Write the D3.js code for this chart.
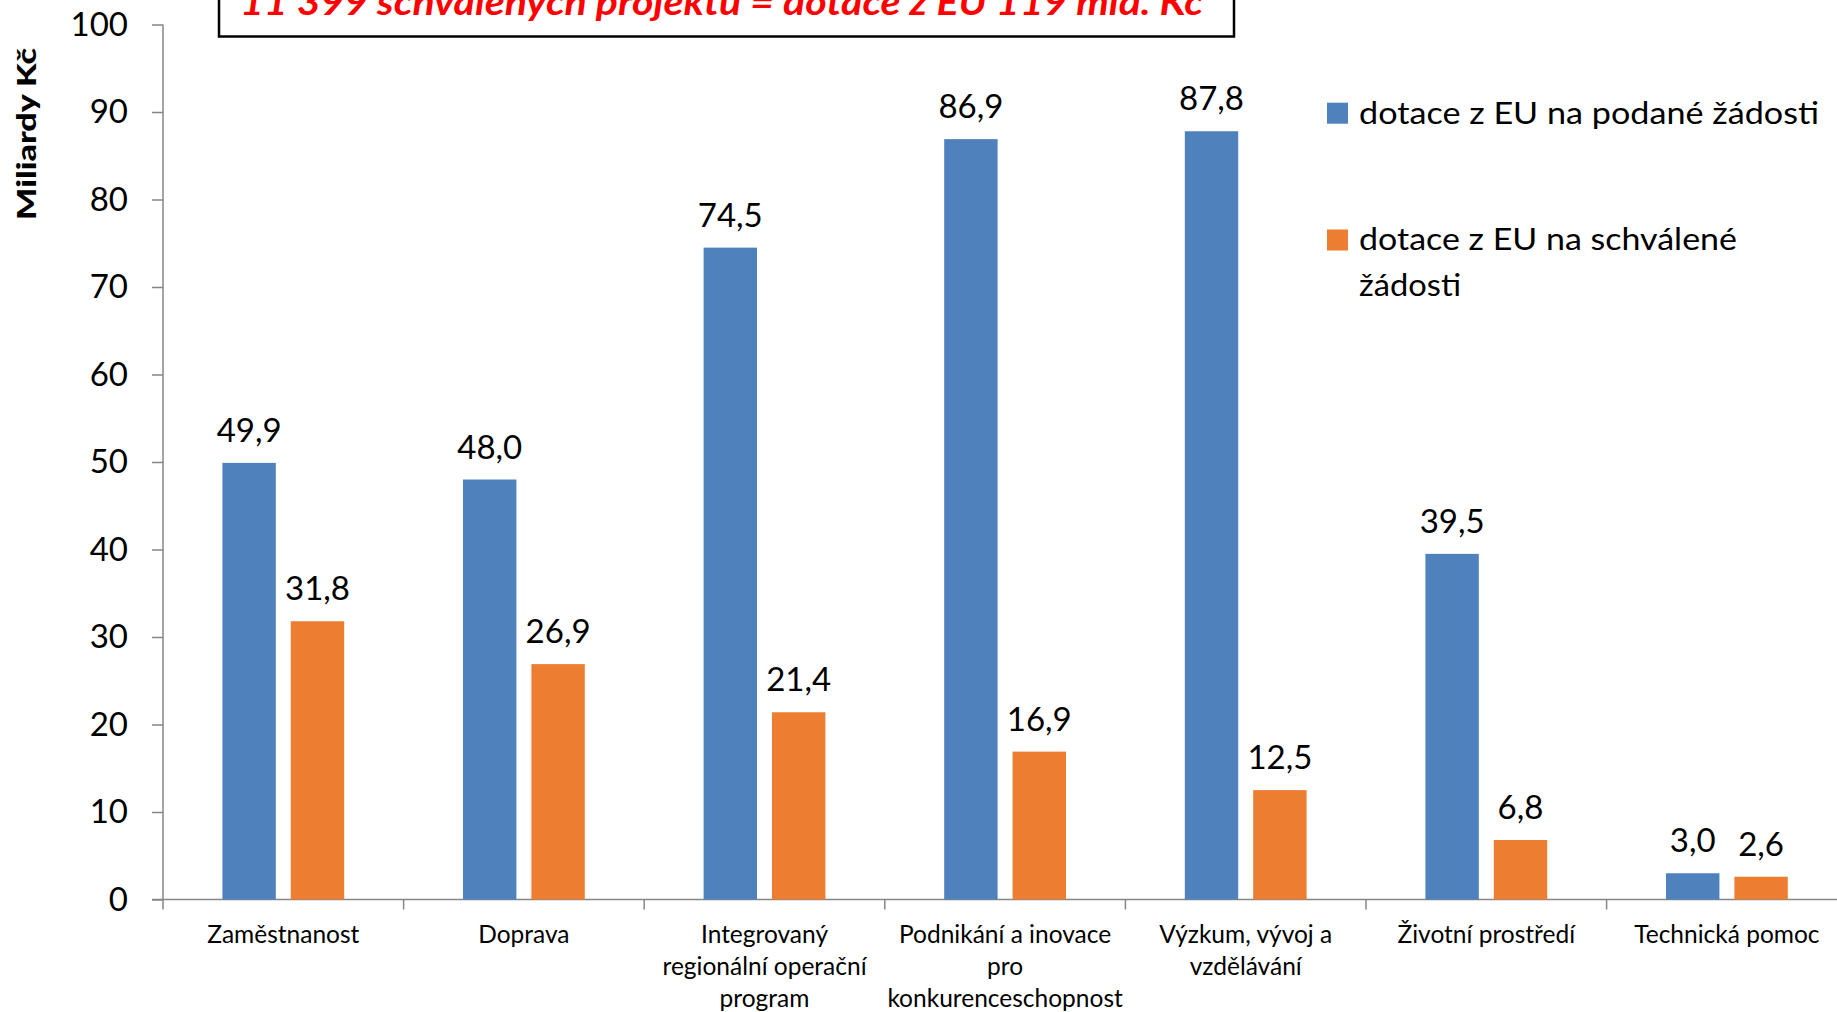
<!DOCTYPE html>
<html><head><meta charset="utf-8">
<script src="https://cdn.jsdelivr.net/npm/d3@7"></script>
<style>html,body{margin:0;padding:0;background:#fff;overflow:hidden}</style>
</head><body>
<svg id="chart" width="1837" height="1012"></svg>
<script>
const categories = [
  ["Zaměstnanost"],
  ["Doprava"],
  ["Integrovaný", "regionální operační", "program"],
  ["Podnikání a inovace", "pro", "konkurenceschopnost"],
  ["Výzkum, vývoj a", "vzdělávání"],
  ["Životní prostředí"],
  ["Technická pomoc"]
];
const seriesNames = ["dotace z EU na podané žádosti", "dotace z EU na schválené žádosti"];
const submitted = [49.9, 48.0, 74.5, 86.9, 87.8, 39.5, 3.0];
const approved  = [31.8, 26.9, 21.4, 16.9, 12.5, 6.8, 2.6];
const yTicks = [0, 10, 20, 30, 40, 50, 60, 70, 80, 90, 100];
const titleText = "11 399 schválených projektů  = dotace z EU 119 mld. Kč";
const yAxisTitle = "Miliardy Kč";
const colors = ["#4F81BD", "#ED7D31"];

const FONT = "Lato, 'Open Sans', sans-serif";
const svg = d3.select("#chart");
const catIdx = categories.map((d, i) => i);

const y = d3.scaleLinear().domain([0, 100]).range([899.5, 24.5]);
const x = d3.scaleBand().domain(catIdx).range([163, 163 + 7 * 240.6]).paddingInner(0).paddingOuter(0);
const xs = d3.scaleBand().domain([0, 1]).range([0, x.bandwidth()]).paddingInner(0.219).paddingOuter(0.869);
const fmt = d3.formatLocale({decimal: ",", thousands: " ", grouping: [3], currency: ["", ""]}).format(".1f");

// Y axis
const yAxis = svg.append("g").attr("transform", "translate(163,0)")
  .call(d3.axisLeft(y).tickValues(yTicks).tickSize(11).tickPadding(24).tickFormat(d3.format("d")));
yAxis.select(".domain").attr("stroke", "#868686").attr("stroke-width", 1.5).attr("d", "M0,24.5V899.5");
yAxis.selectAll(".tick line").attr("stroke", "#868686").attr("stroke-width", 1.5);
yAxis.selectAll(".tick text").attr("font-family", FONT).attr("font-size", 33).attr("fill", "#000");

// X axis
svg.append("line").attr("x1", 152).attr("x2", 1837).attr("y1", y(0)).attr("y2", y(0))
  .attr("stroke", "#868686").attr("stroke-width", 1.5);
svg.append("g").selectAll("line").data(catIdx).join("line")
  .attr("x1", d => x(d)).attr("x2", d => x(d))
  .attr("y1", y(0)).attr("y2", y(0) + 10)
  .attr("stroke", "#868686").attr("stroke-width", 1.5);

// Bars
const seriesData = [submitted, approved];
seriesData.forEach((vals, s) => {
  const g = svg.append("g");
  g.selectAll("rect").data(vals).join("rect")
    .attr("x", (d, i) => x(i) + xs(s))
    .attr("width", xs.bandwidth())
    .attr("y", d => y(d))
    .attr("height", d => y(0) - y(d))
    .attr("fill", colors[s]);
  g.selectAll("text").data(vals).join("text")
    .attr("x", (d, i) => x(i) + xs(s) + xs.bandwidth() / 2)
    .attr("y", d => y(d) - 21)
    .attr("text-anchor", "middle")
    .attr("font-family", FONT).attr("font-size", 33).attr("fill", "#000")
    .text(d => fmt(d));
});

// Category labels
const lbl = svg.append("g");
categories.forEach((lines, i) => {
  const t = lbl.append("text").attr("text-anchor", "middle")
    .attr("font-family", FONT).attr("font-size", 24.5).attr("fill", "#000");
  lines.forEach((ln, j) => {
    t.append("tspan").attr("x", x(i) + x.bandwidth() / 2).attr("y", 942.7 + j * 32).text(ln);
  });
});

// Y axis title
svg.append("text")
  .attr("transform", "translate(36,134) rotate(-90)")
  .attr("text-anchor", "middle")
  .attr("font-family", FONT).attr("font-weight", 900).attr("font-size", 27)
  .attr("textLength", 172).attr("lengthAdjust", "spacingAndGlyphs")
  .text(yAxisTitle);

// Legend
const legend = svg.append("g");
const legendRows = [
  {sq: 102.7, lines: [[seriesNames[0], 123.5, 460]]},
  {sq: 229.5, lines: [["dotace z EU na schválené", 250, 378], ["žádosti", 296, 102]]}
];
legendRows.forEach((r, s) => {
  legend.append("rect").attr("x", 1327).attr("y", r.sq).attr("width", 21).attr("height", 21).attr("fill", colors[s]);
  r.lines.forEach(([t, yy, w]) => {
    legend.append("text").attr("x", 1359).attr("y", yy)
      .attr("font-family", FONT).attr("font-size", 31).attr("fill", "#000")
      .attr("textLength", w).attr("lengthAdjust", "spacingAndGlyphs")
      .text(t);
  });
});

// Title box
svg.append("rect").attr("x", 219).attr("y", -60).attr("width", 1015).attr("height", 96.5)
  .attr("fill", "#fff").attr("stroke", "#000").attr("stroke-width", 2.5);
svg.append("text").attr("x", 240).attr("y", 15)
  .attr("font-family", FONT).attr("font-weight", "bold").attr("font-style", "italic")
  .attr("font-size", 36).attr("fill", "#FF0000")
  .attr("textLength", 963).attr("lengthAdjust", "spacingAndGlyphs")
  .text(titleText);
</script>
</body></html>
